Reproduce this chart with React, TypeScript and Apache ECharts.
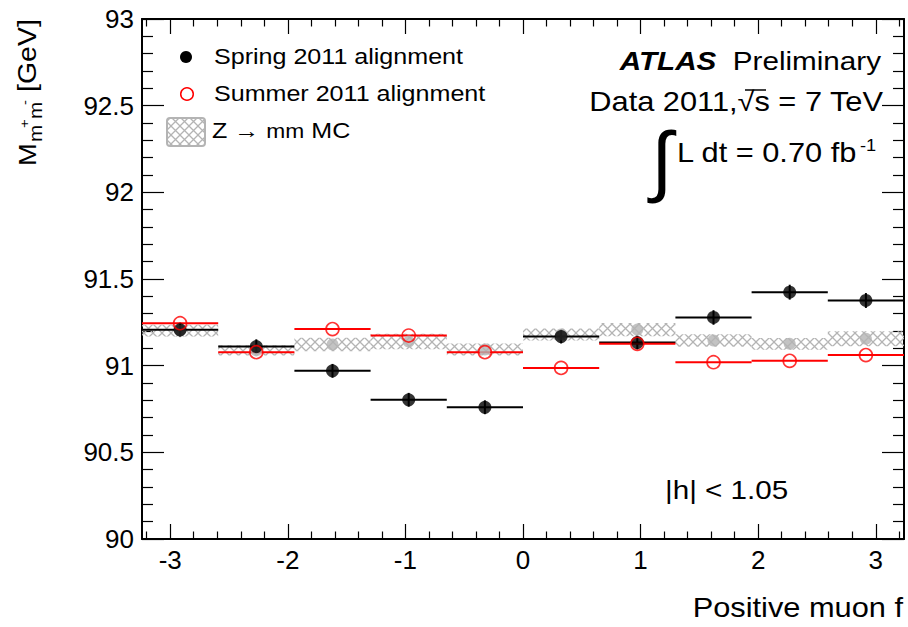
import React, { useEffect, useRef } from 'react';
import * as echarts from 'echarts';

// ---- data ----
const binLow = [-3.24, -2.592, -1.944, -1.296, -0.648, 0, 0.648, 1.296, 1.944, 2.592];
const binHigh = [-2.592, -1.944, -1.296, -0.648, 0, 0.648, 1.296, 1.944, 2.592, 3.24];
const binCenter = [-2.916, -2.268, -1.62, -0.972, -0.324, 0.324, 0.972, 1.62, 2.268, 2.916];
const springMass = [91.207, 91.11, 90.97, 90.803, 90.76, 91.168, 91.133, 91.278, 91.424, 91.376];
const springErr = [0.042, 0.042, 0.04, 0.04, 0.04, 0.04, 0.04, 0.042, 0.043, 0.043];
const summerMass = [91.245, 91.078, 91.211, 91.174, 91.078, 90.987, 91.126, 91.02, 91.028, 91.061];
const mcMass = [91.202, 91.088, 91.122, 91.139, 91.093, 91.18, 91.208, 91.145, 91.126, 91.155];
const mcErr = [0.034, 0.03, 0.039, 0.045, 0.035, 0.035, 0.038, 0.036, 0.034, 0.043];
const xMajorTicks = [-3, -2, -1, 0, 1, 2, 3];
const xMinorTicks = [
  -3.2, -2.8, -2.6, -2.4, -2.2, -1.8, -1.6, -1.4, -1.2, -0.8, -0.6, -0.4, -0.2,
  0.2, 0.4, 0.6, 0.8, 1.2, 1.4, 1.6, 1.8, 2.2, 2.4, 2.6, 2.8, 3.2,
];
const xRange = [-3.24, 3.24];
const yRange = [90, 93];

const FONT = '"Liberation Sans", Arial, Helvetica, sans-serif';
const NARROW = '"Liberation Sans Narrow", "Liberation Sans", sans-serif';
const SX = 1.14;

function makePattern() {
  const c = document.createElement('canvas');
  c.width = 9;
  c.height = 9;
  const ctx = c.getContext('2d')!;
  ctx.strokeStyle = '#b4b4b4';
  ctx.lineWidth = 1.3;
  ctx.beginPath();
  ctx.moveTo(0, 0);
  ctx.lineTo(9, 9);
  ctx.moveTo(9, 0);
  ctx.lineTo(0, 9);
  ctx.stroke();
  return { image: c, repeat: 'repeat', imageWidth: 9, imageHeight: 9 } as any;
}

function txt(x: number, y: number, text: string, size: number, align = 'left', extra: any = {}) {
  return {
    type: 'text',
    x,
    y,
    scaleX: SX,
    silent: true,
    style: {
      text,
      fontSize: size,
      fontFamily: FONT,
      fill: '#000',
      align,
      textAlign: align,
      verticalAlign: 'middle',
      textVerticalAlign: 'middle',
      ...extra,
    },
  };
}

export default function App() {
  const ref = useRef<HTMLDivElement>(null);
  useEffect(() => {
    document.body.style.margin = '0';
    const chart = echarts.init(ref.current!, null, { renderer: 'svg' });
    const pattern = makePattern();

    const bandData = binCenter.map((c, i) => [binLow[i], binHigh[i], mcMass[i], mcMass[i] - mcErr[i], mcMass[i] + mcErr[i]]);
    const springLines = binCenter.map((c, i) => [binLow[i], binHigh[i], springMass[i], c, springErr[i]]);
    const summerLines = binCenter.map((c, i) => [binLow[i], binHigh[i], summerMass[i], c, 0]);

    const lineRender = (color: string) => (params: any, api: any) => {
      const y = api.value(2);
      const p1 = api.coord([api.value(0), y]);
      const p2 = api.coord([api.value(1), y]);
      const children: any[] = [
        { type: 'line', shape: { x1: p1[0], y1: p1[1], x2: p2[0], y2: p2[1] }, style: { stroke: color, lineWidth: 2 } },
      ];
      const e = api.value(4);
      if (e > 0) {
        const a = api.coord([api.value(3), y - e]);
        const b = api.coord([api.value(3), y + e]);
        children.push({ type: 'line', shape: { x1: a[0], y1: a[1], x2: b[0], y2: b[1] }, style: { stroke: color, lineWidth: 2 } });
      }
      return { type: 'group', children };
    };

    const tickStyle = { color: '#000', width: 1.2 };
    const baseX = {
      type: 'value',
      min: xRange[0],
      max: xRange[1],
      splitLine: { show: false },
    };
    const baseY = {
      type: 'value',
      min: yRange[0],
      max: yRange[1],
      interval: 0.5,
      splitLine: { show: false },
      minorSplitLine: { show: false },
      axisLine: { show: true, onZero: false, lineStyle: { color: '#000', width: 2 } },
      axisTick: { show: true, inside: true, length: 22, lineStyle: tickStyle },
      minorTick: { show: true, splitNumber: 5, length: 11, lineStyle: tickStyle },
    };

    const option: any = {
      animation: false,
      backgroundColor: '#fff',
      grid: { left: 142, right: 4, top: 19, bottom: 88, containLabel: false, outerBoundsMode: 'none' },
      xAxis: [
        {
          ...baseX,
          position: 'bottom',
          axisLine: { show: true, onZero: false, lineStyle: { color: '#000', width: 2 } },
          axisTick: { show: true, inside: true, length: 15, customValues: xMajorTicks, lineStyle: tickStyle },
          axisLabel: { show: true, customValues: xMajorTicks, fontSize: 26, fontFamily: FONT, color: '#000', margin: 8 },
        },
        {
          ...baseX,
          position: 'bottom',
          axisLine: { show: false, onZero: false },
          axisTick: { show: true, inside: true, length: 7.5, customValues: xMinorTicks, lineStyle: tickStyle },
          axisLabel: { show: false },
        },
        {
          ...baseX,
          position: 'top',
          axisLine: { show: true, onZero: false, lineStyle: { color: '#000', width: 2 } },
          axisTick: { show: true, inside: true, length: 15, customValues: xMajorTicks, lineStyle: tickStyle },
          axisLabel: { show: false },
        },
        {
          ...baseX,
          position: 'top',
          axisLine: { show: false, onZero: false },
          axisTick: { show: true, inside: true, length: 7.5, customValues: xMinorTicks, lineStyle: tickStyle },
          axisLabel: { show: false },
        },
      ],
      yAxis: [
        {
          ...baseY,
          position: 'left',
          axisLabel: { fontSize: 26, fontFamily: FONT, color: '#000', margin: 8 },
        },
        {
          ...baseY,
          position: 'right',
          axisLabel: { show: false },
        },
      ],
      series: [
        {
          type: 'custom',
          name: 'MC band',
          silent: true,
          data: bandData,
          encode: { x: [0, 1], y: [3, 4] },
          renderItem: (params: any, api: any) => {
            const lo = api.coord([api.value(0), api.value(3)]);
            const hi = api.coord([api.value(1), api.value(4)]);
            return {
              type: 'rect',
              shape: { x: lo[0], y: hi[1], width: hi[0] - lo[0], height: lo[1] - hi[1] },
              style: { fill: pattern, stroke: null },
            };
          },
        },
        {
          type: 'scatter',
          name: 'MC',
          silent: true,
          symbol: 'circle',
          symbolSize: 12,
          itemStyle: { color: '#b4b4b4' },
          data: binCenter.map((c, i) => [c, mcMass[i]]),
        },
        {
          type: 'custom',
          name: 'Spring bars',
          silent: true,
          data: springLines,
          encode: { x: [0, 1], y: 2 },
          renderItem: lineRender('#000'),
        },
        {
          type: 'scatter',
          name: 'Spring 2011 alignment',
          silent: true,
          symbol: 'circle',
          symbolSize: 13,
          itemStyle: { color: '#000' },
          data: binCenter.map((c, i) => [c, springMass[i]]),
        },
        {
          type: 'custom',
          name: 'Summer bars',
          silent: true,
          data: summerLines,
          encode: { x: [0, 1], y: 2 },
          renderItem: lineRender('#ff0000'),
        },
        {
          type: 'scatter',
          name: 'Summer 2011 alignment',
          silent: true,
          symbol: 'circle',
          symbolSize: 13,
          itemStyle: { color: 'rgba(0,0,0,0)', borderColor: '#ff0000', borderWidth: 1.6 },
          data: binCenter.map((c, i) => [c, summerMass[i]]),
        },
      ],
      graphic: [
        // legend
        { type: 'circle', silent: true, shape: { cx: 186, cy: 57, r: 6 }, style: { fill: '#000' } },
        txt(214, 57, 'Spring 2011 alignment', 22),
        { type: 'circle', silent: true, shape: { cx: 187, cy: 94, r: 6.3 }, style: { fill: 'none', stroke: '#ff0000', lineWidth: 1.5 } },
        txt(214, 94, 'Summer 2011 alignment', 22),
        { type: 'rect', silent: true, shape: { x: 167, y: 118, width: 38, height: 28, r: 3 }, style: { fill: pattern, stroke: '#b4b4b4', lineWidth: 2 } },
        txt(212, 131, '{a|Z → }{m|mm}{a| MC}', 22, 'left', {
          rich: { a: { fontSize: 22, fontFamily: FONT }, m: { fontSize: 20, fontFamily: NARROW } },
        }),
        // ATLAS label
        txt(881, 61, '{b|ATLAS}{n|  Preliminary}', 26, 'right', {
          rich: { b: { fontSize: 26, fontFamily: FONT, fontWeight: 'bold', fontStyle: 'italic' }, n: { fontSize: 26, fontFamily: FONT } },
        }),
        txt(883, 102, 'Data 2011,√s = 7 TeV', 27, 'right'),
        { type: 'line', silent: true, shape: { x1: 745, y1: 90, x2: 766, y2: 90 }, style: { stroke: '#000', lineWidth: 1.5 } },
        { type: 'text', silent: true, x: 662, y: 160, style: { text: '∫', fontSize: 78, fontFamily: FONT, fill: '#000', align: 'center', textAlign: 'center', verticalAlign: 'middle', textVerticalAlign: 'middle' } },
        txt(677, 153, 'L dt = 0.70 fb', 27),
        txt(860, 145, '-1', 16),
        txt(665, 490, '|h| < 1.05', 26),
        // axis titles
        txt(903, 608, '{a|Positive muon }{f|f}', 27, 'right', {
          rich: { a: { fontSize: 27, fontFamily: FONT }, f: { fontSize: 27, fontFamily: NARROW } },
        }),
        {
          type: 'group',
          x: 28,
          y: 166,
          rotation: Math.PI / 2,
          silent: true,
          children: [
            txt(0, 0, 'M', 24),
            txt(24, 8, 'm', 18, 'left', { fontFamily: NARROW }),
            txt(38, -4, '+', 13),
            txt(47, 8, 'm', 18, 'left', { fontFamily: NARROW }),
            txt(61, -4, '-', 13),
            txt(74, 0, '[GeV]', 25),
          ],
        },
      ],
    };
    chart.setOption(option);
    return () => chart.dispose();
  }, []);
  return <div ref={ref} style={{ position: 'fixed', left: 0, top: 0, width: 908, height: 627 }} />;
}
